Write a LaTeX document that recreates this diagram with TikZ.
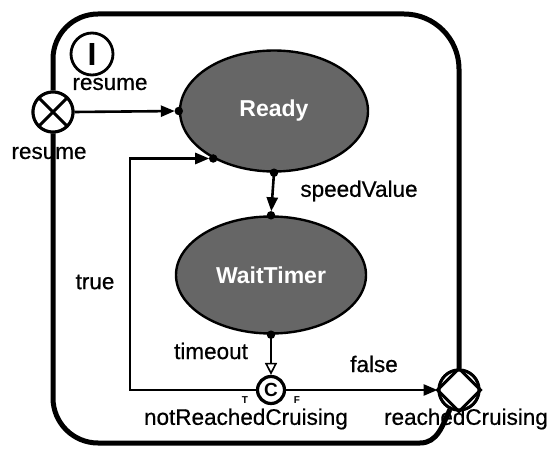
\documentclass[tikz,border=0pt]{standalone}
\usepackage{fontspec}
\setmainfont{Liberation Sans}
\newfontfamily\lblfont{Liberation Sans}[FakeBold=0.6]
\usetikzlibrary{arrows.meta,shapes.geometric,calc}

\begin{document}
\begin{tikzpicture}[x=1pt,y=1pt,
  lbl/.style={font=\lblfont\fontsize{22.5}{26}\selectfont, inner sep=0pt},
  tf/.style={font=\fontsize{10}{10}\selectfont\bfseries, inner sep=0pt},
  state/.style={ellipse, draw, line width=2.4pt,
    fill=black!60, inner sep=0pt, text=white,
    font=\fontsize{23}{26}\selectfont\bfseries},
  port/.style={circle, draw, line width=3pt, fill=white,
    minimum size=40pt, inner sep=0pt},
  border/.style={line width=5pt},
  conn/.style={line width=2.6pt},
  fhead/.style={-{Triangle[length=14pt,width=11pt]}},
  ohead/.style={-{Triangle[open,length=12pt,width=12pt,line width=1.6pt]}},
  jdot/.style={circle, fill=black, inner sep=0pt, minimum size=8.5pt},
]
\useasboundingbox (0,0) rectangle (557,450);

% ports on the frame and the initial marker
\node[port] (resumeX) at (53,338) {};
\node[port] (reached) at (459,60) {};
\node[circle, draw, line width=2.8pt, minimum size=42pt, inner sep=0pt,
      font=\fontsize{32}{32}\selectfont\bfseries] (init) at (92,396) {I};

% states
\node[state, minimum width=188pt, minimum height=121pt] (ready) at (274,339) {Ready};
\node[state, minimum width=190pt, minimum height=117pt] (wait) at (271,175) {WaitTimer};

% condition node
\node[circle, draw, line width=3.2pt, fill=white, minimum size=27pt, inner sep=0pt,
      font=\fontsize{19}{19}\selectfont\bfseries] (choice) at (271,60) {C};

% frame of the composite state, running through the two ports
\draw[border] (resumeX.north) -- (53,391) arc[start angle=180,end angle=90,radius=45]
  -- (404,436) arc[start angle=90,end angle=0,radius=55] -- (reached.north);
\draw[border] (resumeX.south) -- (53,52) arc[start angle=180,end angle=270,radius=45]
  -- (420,7) to[out=0,in=245] (reached.245);

% redraw ports above the frame
\node[port] at (resumeX) {};
\node[port] at (reached) {};
\draw[line width=3pt] (resumeX.45) -- (resumeX.225) (resumeX.135) -- (resumeX.315);
\draw[line width=3pt] (reached.north) -- (reached.east) -- (reached.south)
  -- (reached.west) -- cycle;

% transitions
\draw[conn, fhead, shorten >=4pt] (resumeX.east) -- (ready.west);
\node[jdot] (d1) at (ready.west) {};

\draw[conn, fhead, shorten >=4pt, shorten <=2pt] (ready.south) -- (wait.north);
\node[jdot] (d2) at (ready.south) {};
\node[jdot] (d3) at (wait.north) {};

\draw[conn, ohead, shorten <=2pt] (wait.south) -- (choice.north);
\node[jdot] (d4) at (wait.south) {};

\draw[conn, fhead] (choice.east) -- (reached.west);

% "true" branch loops back into the lower left of Ready
\coordinate (loopx) at (130,0);
\draw[conn, fhead, shorten >=4pt] (choice.west) -| (loopx |- ready.-142)
  -- (ready.-142);
\node[jdot] (d5) at (ready.-142) {};

% labels
\node[lbl] (l1) at (110,366) {resume};
\node[lbl] (l2) at (49,297) {resume};
\node[lbl] (l3) at (359,259) {speedValue};
\node[lbl] (l4) at (95,168) {true};
\node[lbl] (l5) at (211,99) {timeout};
\node[lbl] (l6) at (374,86) {false};
\node[tf] (lt) at (245,50) {T};
\node[tf] (lf) at (297,50) {F};
\node[lbl] (l7) at (246,31) {notReachedCruising};
\node[lbl] (l8) at (466,31) {reachedCruising};
\end{tikzpicture}
\end{document}
